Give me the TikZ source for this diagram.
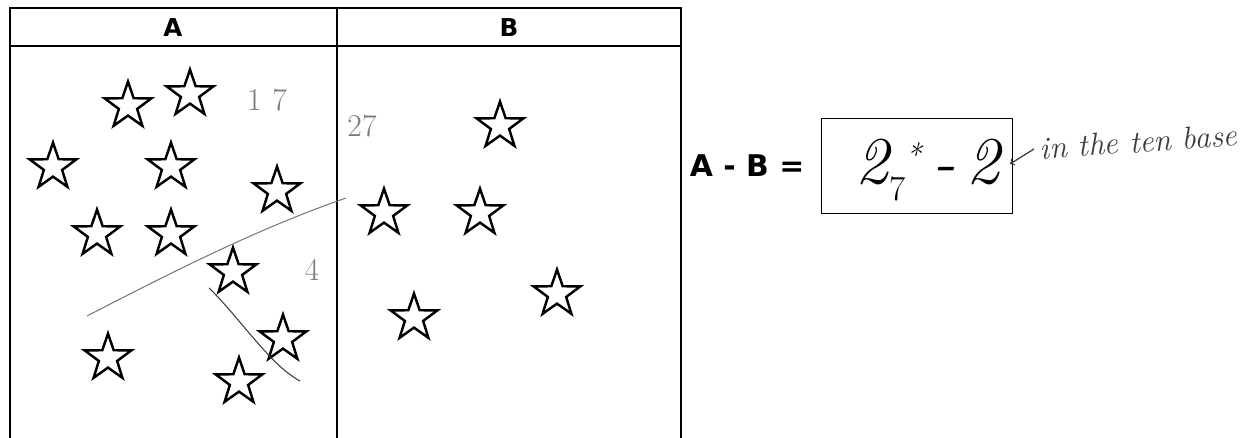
\documentclass[tikz,border=0pt]{standalone}
\usepackage{fontspec}
\usetikzlibrary{shapes.geometric,positioning}
\newfontfamily\headfont{DejaVu Sans}
\definecolor{pencil}{HTML}{7A7A7A}
\definecolor{inkgray}{HTML}{3C3C3C}
\tikzset{
  starmark/.style={star, star points=5, star point ratio=2.55, draw, line width=1.4pt, minimum size=0.98cm, inner sep=0pt},
  gridline/.style={line width=1.1pt},
  header/.style={font=\headfont\bfseries\fontsize{14}{14}\selectfont},
  hand/.style={pencil, font=\fontsize{18}{18}\selectfont},
}
\begin{document}
\begin{tikzpicture}[x=0.02cm,y=-0.02cm]
 			\useasboundingbox (0,0) rectangle (1251,438);
 			% TABLE: two columns A and B
 			\begin{scope}
 				\draw[gridline] (10,438) -- (10,8) -- (681,8) -- (681,438);
 				\draw[gridline] (10,46) -- (681,46);
 				\draw[gridline] (337,8) -- (337,438);
 				\node[header] (colA) at (173,28) {A};
 				\node[header] (colB) at (509,28) {B};
 			\end{scope}
 			% LEFT: stars of A
 			\foreach \x/\y [count=\i] in {128/106, 190/94, 53/167, 171/167, 277/191, 97/234, 171/234, 233/272, 283/339, 108/358, 239/382}
 				\node[starmark] (a\i) at (\x,\y) {};
 			% RIGHT: stars of B
 			\foreach \x/\y [count=\i] in {500/126, 384/213, 480/213, 557/294, 414/318}
 				\node[starmark] (b\i) at (\x,\y) {};
 			% Pencil marks of the student
 			\node[hand] (seventeen) at (267,100) {1\,\,7};
 			\node[hand] (four) at (312,270) {4};
 			\node[hand] (twentyseven) at (362,126) {27};
 			\draw[pencil, line width=0.6pt] (87,316) .. controls (180,268) and (260,228) .. (346,198);
 			\draw[inkgray, line width=0.6pt] (209,288) .. controls (240,318) and (270,365) .. (300,381);
 			% Difference A - B
 			\node[draw, line width=1.1pt, minimum width=3.82cm, minimum height=1.9cm, inner sep=0pt] (diff) at (917,166) {};
 			\node[header, font=\headfont\bfseries\fontsize{17}{17}\selectfont, left=0.2cm of diff] (eq) {A - B =};
 			\node[font=\itshape\fontsize{38}{38}\selectfont] (ans) at (928,170) {2\raisebox{-0.6ex}{\upshape\fontsize{20}{20}\selectfont 7}\raisebox{0.6ex}{\fontsize{18}{18}\selectfont *}\,-\,2};
 			\node[inkgray, font=\itshape\fontsize{18}{18}\selectfont, anchor=west, rotate=4] (note) at (1034,149) {in the ten base};
 			\coordinate (tip) at (1010,164);
 			\draw[->, inkgray, line width=0.7pt] (note.west) -- (tip);
 			\end{tikzpicture}
\end{document}
